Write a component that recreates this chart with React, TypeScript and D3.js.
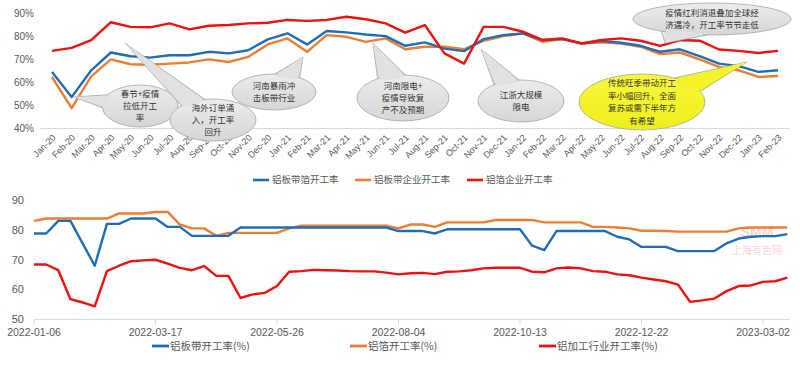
import React from "react";
import * as d3 from "d3";

// ---------- Top chart data (monthly) ----------
const months = [
  "Jan-20","Feb-20","Mar-20","Apr-20","May-20","Jun-20","Jul-20","Aug-20","Sep-20","Oct-20","Nov-20","Dec-20",
  "Jan-21","Feb-21","Mar-21","Apr-21","May-21","Jun-21","Jul-21","Aug-21","Sep-21","Oct-21","Nov-21","Dec-21",
  "Jan-22","Feb-22","Mar-22","Apr-22","May-22","Jun-22","Jul-22","Aug-22","Sep-22","Oct-22","Nov-22","Dec-22",
  "Jan-23","Feb-23",
];
const plateFoilRate = [
  64.5, 53.6, 65.2, 72.9, 71.3, 70.7, 71.7, 71.7, 73.2, 72.5, 73.9, 78.6,
  81.2, 76.4, 82.2, 81.6, 80.7, 80.0, 75.8, 77.3, 74.6, 73.5, 78.7, 80.4,
  81.2, 78.3, 78.7, 76.8, 77.9, 77.1, 75.8, 73.2, 74.3, 71.3, 68.1, 67.0,
  64.5, 65.2,
];
const plateRate = [
  62.3, 48.8, 62.6, 69.9, 67.8, 67.6, 68.1, 68.6, 69.9, 68.8, 71.0, 76.4,
  79.0, 73.2, 80.4, 79.7, 77.5, 79.0, 74.3, 75.4, 75.4, 74.3, 78.0, 80.0,
  81.2, 77.5, 78.7, 76.8, 77.3, 76.8, 75.4, 72.2, 72.9, 69.9, 66.7, 65.2,
  62.3, 62.7,
];
const foilRate = [
  73.6, 74.9, 78.3, 86.0, 84.0, 83.8, 85.5, 82.9, 84.5, 84.8, 85.5, 85.8,
  87.0, 86.6, 87.0, 88.4, 87.3, 85.5, 81.5, 84.8, 72.5, 68.1, 84.0, 84.0,
  81.9, 78.3, 79.0, 76.8, 78.3, 79.0, 78.0, 75.8, 78.3, 78.0, 74.2, 73.6,
  72.7, 73.6,
];
const topYTicks = [40, 50, 60, 70, 80, 90];
const topLegend = ["铝板带箔开工率", "铝板带企业开工率", "铝箔企业开工率"];

// ---------- Bottom chart data (weekly from 2022-01-06) ----------
const weekStart = "2022-01-06";
const weeklyPlate = [
  78.8, 78.8, 83, 83, 75.5, 68, 82, 82, 83.8, 83.8, 83.8, 81, 81, 78, 78, 78,
  78, 80.8, 80.8, 80.8, 80.8, 80.8, 80.8, 80.8, 80.8, 80.8, 80.8, 80.8, 80.8, 80.8, 79.6, 79.6,
  79.6, 78.8, 80.2, 80.2, 80.2, 80.2, 80.2, 80.2, 80.2, 74.7, 73.2, 79.6, 79.6, 79.6, 79.6, 79.6,
  77.7, 76.8, 74.3, 74.3, 74.3, 72.9, 72.9, 72.9, 72.9, 75.5, 77.1, 77.7, 77.9, 77.9, 78.6,
];
const weeklyFoil = [
  83, 83.8, 83.8, 83.8, 83.8, 83.8, 83.8, 85.5, 85.5, 85.5, 86, 86, 81.8, 80.5, 80.5, 78,
  79, 79, 79, 79, 79, 80.5, 81.4, 81.4, 81.4, 81.4, 81.4, 81.4, 81.4, 81.4, 80.5, 81.8,
  81.8, 81, 82.5, 82.5, 82.5, 82.5, 83.3, 83.3, 83.3, 83.3, 82.5, 82.5, 82.5, 82.5, 81, 81,
  80.8, 80.5, 79.7, 79.7, 79.6, 79.4, 79.4, 79.4, 79.4, 79.4, 80.5, 80.8, 80.8, 80.8, 80.8,
];
const weeklyIndustry = [
  68.4, 68.4, 66.5, 56.8, 55.7, 54.4, 66.2, 68, 69.5, 69.8, 70, 68.7, 67.3, 66.5, 67.9, 64.6,
  64.6, 57.2, 58.4, 58.9, 61.2, 66, 66.2, 66.6, 66.5, 66.4, 66.2, 66.1, 66.1, 65.7, 65.1, 65.5,
  65.6, 65.2, 66, 66.1, 66.5, 67.1, 67.3, 67.3, 67.3, 66, 65.8, 67.1, 67.4, 67.1, 66.2, 66,
  65.1, 64.8, 64, 63.4, 62.8, 61.7, 55.9, 56.4, 57, 59.5, 61.2, 61.4, 62.6, 62.8, 64,
];
const bottomXTicks = ["2022-01-06", "2022-03-17", "2022-05-26", "2022-08-04", "2022-10-13", "2022-12-22", "2023-03-02"];
const bottomYTicks = [50, 60, 70, 80, 90];
const bottomLegend = ["铝板带开工率(%)", "铝箔开工率(%)", "铝加工行业开工率(%)"];

// ---------- Callouts ----------
type Callout = { lines: string[]; cx: number; cy: number; rx: number; ry: number; tip: [number, number]; yellow?: boolean; spread?: number };
const callouts: Callout[] = [
  { lines: ["春节+疫情", "拉低开工", "率"], cx: 140, cy: 106, rx: 38, ry: 21, tip: [74, 97] },
  { lines: ["海外订单涌", "入，开工率", "回升"], cx: 213, cy: 120, rx: 43, ry: 21, tip: [125, 43] },
  { lines: ["河南暴雨冲", "击板带行业"], cx: 274, cy: 92, rx: 42, ry: 18, tip: [303, 57] },
  { lines: ["河南限电+", "疫情导致复", "产不及预期"], cx: 403, cy: 98, rx: 46, ry: 23, tip: [373, 43] },
  { lines: ["江浙大规模", "限电"], cx: 521, cy: 101, rx: 43, ry: 21, tip: [481, 49] },
  { lines: ["传统旺季带动开工", "率小幅回升，全面", "复苏或需下半年方", "有希望"], cx: 642, cy: 102, rx: 63, ry: 28, tip: [747, 62], yellow: true },
  { lines: ["疫情红利消退叠加全球经", "济遇冷，开工率节节走低"], cx: 712, cy: 19, rx: 79, ry: 16, tip: [665, 43] },
];

const FONT = "'Liberation Sans', Arial, 'Noto Sans CJK SC', sans-serif";
const CJK = "'Noto Sans CJK SC', 'Liberation Sans', sans-serif";
const BLUE = "#1f6db5";
const ORANGE = "#ee7d31";
const RED = "#ee1111";

function calloutParts(c: Callout) {
  const t = Math.atan2((c.tip[1] - c.cy) / c.ry, (c.tip[0] - c.cx) / c.rx);
  const s = c.spread ?? 0.32;
  const p1: [number, number] = [c.cx + c.rx * Math.cos(t - s), c.cy + c.ry * Math.sin(t - s)];
  const p2: [number, number] = [c.cx + c.rx * Math.cos(t + s), c.cy + c.ry * Math.sin(t + s)];
  const inner = (p: [number, number]): [number, number] => [c.cx + (p[0] - c.cx) * 0.9, c.cy + (p[1] - c.cy) * 0.9];
  const tri = `M${p1[0]},${p1[1]}L${c.tip[0]},${c.tip[1]}L${p2[0]},${p2[1]}Z`;
  const q1 = inner(p1), q2 = inner(p2);
  const cover = `M${q1[0]},${q1[1]}L${c.tip[0]},${c.tip[1]}L${q2[0]},${q2[1]}Z`;
  return { tri, cover };
}

export default function App() {
  const xTop = d3.scalePoint<string>().domain(months).range([52, 778]);
  const yTop = d3.scaleLinear().domain([40, 90]).range([128.5, 13]);
  const lineTop = d3
    .line<number>()
    .x((_, i) => xTop(months[i]) as number)
    .y((d) => yTop(d));

  const parse = d3.timeParse("%Y-%m-%d");
  const start = parse(weekStart) as Date;
  const dates = weeklyPlate.map((_, i) => d3.timeDay.offset(start, i * 7));
  const xBot = d3
    .scaleTime()
    .domain([parse(bottomXTicks[0]) as Date, parse(bottomXTicks[bottomXTicks.length - 1]) as Date])
    .range([34, 763]);
  const yBot = d3.scaleLinear().domain([50, 90]).range([319.5, 200]);
  const lineBot = d3
    .line<number>()
    .x((_, i) => xBot(dates[i]))
    .y((d) => yBot(d));

  const topSeries = [
    { data: plateRate, color: ORANGE },
    { data: plateFoilRate, color: BLUE },
    { data: foilRate, color: RED },
  ];
  const botSeries = [
    { data: weeklyFoil, color: ORANGE },
    { data: weeklyPlate, color: BLUE },
    { data: weeklyIndustry, color: RED },
  ];
  const topLegendPos = [253, 355, 467];
  const topLegendColors = [BLUE, ORANGE, RED];
  const botLegendPos = [152, 350, 539];
  const botLegendColors = [BLUE, ORANGE, RED];

  return (
    <svg
      width={800}
      height={367}
      style={{ position: "absolute", left: 0, top: 0, background: "#fff" }}
      fontFamily={FONT}
    >
      <defs>
        <linearGradient id="grayFill" x1="0" y1="0" x2="0" y2="1">
          <stop offset="0" stopColor="#ececec" />
          <stop offset="1" stopColor="#d6d6d6" />
        </linearGradient>
        <linearGradient id="yellowFill" x1="0" y1="0" x2="0" y2="1">
          <stop offset="0" stopColor="#f8f83a" />
          <stop offset="1" stopColor="#eeee1c" />
        </linearGradient>
      </defs>

      {/* ===== Top chart ===== */}
      <line x1={40} x2={790} y1={yTop(40)} y2={yTop(40)} stroke="#d9d9d9" strokeWidth={1} />
      {topYTicks.map((t) => (
        <text key={t} x={34} y={yTop(t)} dy="0.35em" textAnchor="end" fontSize={10} fill="#595959">
          {t}%
        </text>
      ))}
      {months.map((m) => (
        <text
          key={m}
          transform={`translate(${(xTop(m) as number) + 2},${136}) rotate(-45)`}
          textAnchor="end"
          dy="0.35em"
          fontSize={9}
          fill="#595959"
        >
          {m}
        </text>
      ))}
      {topSeries.map((s, i) => (
        <path key={i} d={lineTop(s.data) || ""} fill="none" stroke={s.color} strokeWidth={2.4} strokeLinejoin="round" />
      ))}

      {callouts.map((c, i) => {
        const { tri, cover } = calloutParts(c);
        const fill = c.yellow ? "url(#yellowFill)" : "url(#grayFill)";
        const lh = 12.4;
        const y0 = c.cy - ((c.lines.length - 1) * lh) / 2;
        return (
          <g key={i}>
            <path d={tri} fill={fill} stroke="#a6a6a6" strokeWidth={0.8} />
            <ellipse cx={c.cx} cy={c.cy} rx={c.rx} ry={c.ry} fill={fill} stroke="#a6a6a6" strokeWidth={0.8} />
            <path d={cover} fill={c.yellow ? "#f3f32a" : "#e1e1e1"} stroke="none" />
            <text textAnchor="middle" fontSize={8.5} fontFamily={CJK} fill="#333">
              {c.lines.map((ln, j) => (
                <tspan key={j} x={c.cx} y={y0 + j * lh} dy="0.35em">
                  {ln}
                </tspan>
              ))}
            </text>
          </g>
        );
      })}

      {topLegend.map((name, i) => (
        <g key={name}>
          <line x1={topLegendPos[i]} x2={topLegendPos[i] + 16} y1={180} y2={180} stroke={topLegendColors[i]} strokeWidth={2.6} />
          <text x={topLegendPos[i] + 19} y={180} dy="0.35em" fontSize={9.5} fontFamily={CJK} fill="#595959">
            {name}
          </text>
        </g>
      ))}

      {/* ===== Bottom chart ===== */}
      <line x1={34} x2={790} y1={yBot(50)} y2={yBot(50)} stroke="#d9d9d9" strokeWidth={1} />
      {bottomXTicks.map((t) => {
        const x = xBot(parse(t) as Date);
        return (
          <g key={t}>
            <line x1={x} x2={x} y1={yBot(50)} y2={yBot(50) + 5} stroke="#d9d9d9" />
            <text x={x} y={332} dy="0.35em" textAnchor="middle" fontSize={10.5} fill="#595959">
              {t}
            </text>
          </g>
        );
      })}
      {bottomYTicks.map((t) => (
        <text key={t} x={24} y={yBot(t)} dy="0.35em" textAnchor="end" fontSize={11} fill="#595959">
          {t}
        </text>
      ))}

      <g opacity={0.35}>
        <text x={757} y={237} textAnchor="middle" fontSize={14} fontWeight="bold" fill="#f08a8a" fontFamily={FONT}>
          SMM
        </text>
        <text x={757} y={250} dy="0.35em" textAnchor="middle" fontSize={10} fill="#f08a8a" fontFamily={CJK}>
          上海有色网
        </text>
      </g>

      {botSeries.map((s, i) => (
        <path key={i} d={lineBot(s.data) || ""} fill="none" stroke={s.color} strokeWidth={2.4} strokeLinejoin="round" />
      ))}

      {bottomLegend.map((name, i) => (
        <g key={name}>
          <line x1={botLegendPos[i]} x2={botLegendPos[i] + 17} y1={346} y2={346} stroke={botLegendColors[i]} strokeWidth={2.8} />
          <text x={botLegendPos[i] + 18} y={346} dy="0.35em" fontSize={10.5} fontFamily={CJK} fill="#595959">
            {name}
          </text>
        </g>
      ))}
    </svg>
  );
}
